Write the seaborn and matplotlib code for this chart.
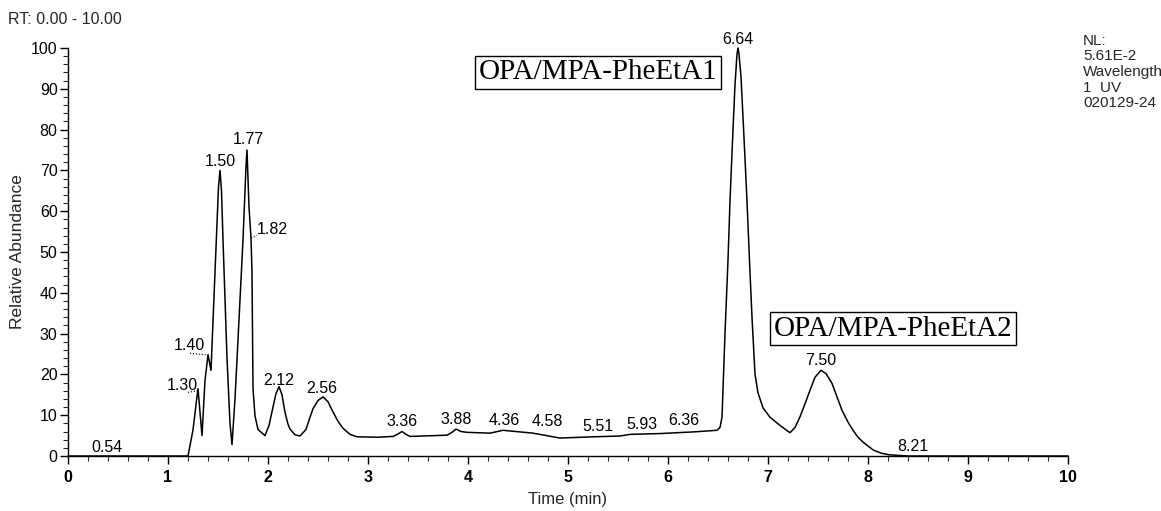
import matplotlib
matplotlib.use("Agg")
import matplotlib.pyplot as plt
import seaborn as sns
import pandas as pd
from matplotlib.ticker import MultipleLocator

# ---- data ----
time_min = [0.00, 1.20, 1.25, 1.287, 1.30, 1.34, 1.37, 1.40, 1.43, 1.47, 1.505, 1.52, 1.535,
            1.55, 1.59, 1.62, 1.64, 1.67, 1.70, 1.75, 1.78, 1.79, 1.80, 1.81, 1.83, 1.84, 1.85,
            1.87, 1.90, 1.97, 2.01, 2.05, 2.08, 2.11, 2.14, 2.17, 2.20, 2.22, 2.27, 2.32, 2.38,
            2.42, 2.45, 2.50, 2.55, 2.60, 2.65, 2.70, 2.75, 2.82, 2.89, 3.10, 3.25, 3.30, 3.34,
            3.38, 3.42, 3.79, 3.84, 3.88, 3.93, 3.99, 4.22, 4.35, 4.65, 4.92, 5.25, 5.52,
            5.62, 5.92, 6.25, 6.49, 6.52, 6.54, 6.57, 6.60, 6.62, 6.65, 6.67, 6.69, 6.70, 6.71,
            6.73, 6.76, 6.79, 6.82, 6.84, 6.87, 6.90, 6.95, 7.02, 7.12, 7.17, 7.22, 7.27, 7.32,
            7.37, 7.42, 7.47, 7.53, 7.58, 7.64, 7.69, 7.74, 7.80, 7.85, 7.90, 7.95, 8.05, 8.13,
            8.21, 8.40, 10.00]
abundance = [0.0, 0.0, 6.4, 14.0, 16.5, 5.0, 18.5, 24.8, 21.0, 45.0, 66.0, 70.0, 65.0,
             53.0, 24.0, 8.0, 2.8, 14.0, 28.5, 53.0, 71.0, 75.0, 68.0, 61.0, 53.5, 45.0, 16.5,
             9.8, 6.5, 5.0, 7.5, 12.0, 15.3, 17.0, 15.0, 10.7, 7.8, 6.6, 5.2, 4.9, 6.5,
             9.5, 11.6, 13.6, 14.5, 13.3, 10.8, 8.5, 6.8, 5.3, 4.7, 4.6, 4.8, 5.4, 6.0,
             5.3, 4.8, 5.1, 5.8, 6.6, 6.0, 5.8, 5.6, 6.3, 5.6, 4.4, 4.7, 4.9,
             5.3, 5.5, 5.9, 6.3, 7.0, 9.5, 30.0, 48.0, 62.5, 80.0, 91.0, 98.5, 100.0, 98.5,
             93.0, 78.0, 62.5, 45.0, 34.0, 20.0, 15.5, 11.8, 9.5, 7.5, 6.6, 5.7, 7.0, 9.6,
             12.8, 16.1, 19.3, 21.0, 20.2, 17.8, 14.5, 11.2, 8.3, 6.3, 4.6, 3.4, 1.5, 0.7,
             0.3, 0.0, 0.0]

peak_labels = ["0.54", "1.30", "1.40", "1.50", "1.77", "1.82", "2.12", "2.56", "3.36", "3.88",
               "4.36", "4.58", "5.51", "5.93", "6.36", "6.64", "7.50", "8.21"]
peak_label_x = [0.39, 1.14, 1.21, 1.52, 1.80, 2.04, 2.11, 2.54, 3.34, 3.88,
                4.36, 4.79, 5.30, 5.74, 6.16, 6.70, 7.53, 8.45]
peak_label_y = [2.2, 17.3, 27.2, 72.3, 77.6, 55.6, 18.4, 16.5, 8.5, 9.0,
                8.6, 8.4, 7.2, 7.7, 8.6, 102.0, 23.5, 2.4]

# dotted leaders (label -> peak)
leader_x = [(1.20, 1.30), (1.22, 1.41), (1.83, 1.89)]
leader_y = [(15.6, 16.0), (25.2, 24.7), (53.5, 54.0)]

box_texts = ["OPA/MPA-PheEtA1", "OPA/MPA-PheEtA2"]
box_x = [5.30, 8.25]
box_y = [94.0, 31.2]

x_ticks = list(range(0, 11))
y_ticks = list(range(0, 101, 10))

header_text = "RT: 0.00 - 10.00"
info_lines = ["NL:", "5.61E-2", "Wavelength", "1  UV", "020129-24"]

# ---- plotting ----
sns.set_style("ticks")
plt.rcParams["font.family"] = ["Liberation Sans", "DejaVu Sans"]

fig = plt.figure(figsize=(11.61, 5.11), dpi=100)
ax = fig.add_axes([68 / 1161, 55 / 511, 1000 / 1161, 408 / 511])

df = pd.DataFrame({"Time (min)": time_min, "Relative Abundance": abundance})
sns.lineplot(data=df, x="Time (min)", y="Relative Abundance", ax=ax, color="black",
             linewidth=1.1, sort=False, estimator=None, clip_on=False)

ax.set_xlim(0, 10)
ax.set_ylim(0, 100)
ax.set_xticks(x_ticks)
ax.set_yticks(y_ticks)
ax.xaxis.set_minor_locator(MultipleLocator(0.2))
ax.yaxis.set_minor_locator(MultipleLocator(2))
ax.tick_params(axis="both", which="major", direction="out", length=6, width=1, labelsize=11.5,
               colors="black", pad=1.5)
ax.tick_params(axis="both", which="minor", direction="out", length=3.5, width=0.8)
ax.tick_params(axis="x", labelsize=11.5, pad=4)
for lab in ax.get_xticklabels():
    lab.set_fontweight("bold")
sns.despine(ax=ax)
for sp in ["left", "bottom"]:
    ax.spines[sp].set_linewidth(1.0)
    ax.spines[sp].set_color("black")

ax.set_xlabel("Time (min)", fontsize=12, labelpad=5)
ax.set_ylabel("Relative Abundance", fontsize=12.5, labelpad=4)

for t, px, py in zip(peak_labels, peak_label_x, peak_label_y):
    ax.text(px, py, t, ha="center", va="center", fontsize=11.5, color="black", clip_on=False)

for lx, ly in zip(leader_x, leader_y):
    ax.plot(lx, ly, color="black", linestyle=":", linewidth=0.8, clip_on=False)

for t, bx, by in zip(box_texts, box_x, box_y):
    ax.text(bx, by, t, ha="center", va="center", fontsize=21, color="black",
            family="Liberation Serif",
            bbox=dict(boxstyle="square,pad=0.12", facecolor="white", edgecolor="black",
                      linewidth=1.0), clip_on=False)

fig.text(8 / 1161, 1 - 20 / 511, header_text, ha="left", va="center", fontsize=11.5)
for i, line in enumerate(info_lines):
    fig.text(1083 / 1161, 1 - (41 + i * 15.5) / 511, line, ha="left", va="center", fontsize=11)

fig.savefig("out.png", dpi=100, facecolor="white")
